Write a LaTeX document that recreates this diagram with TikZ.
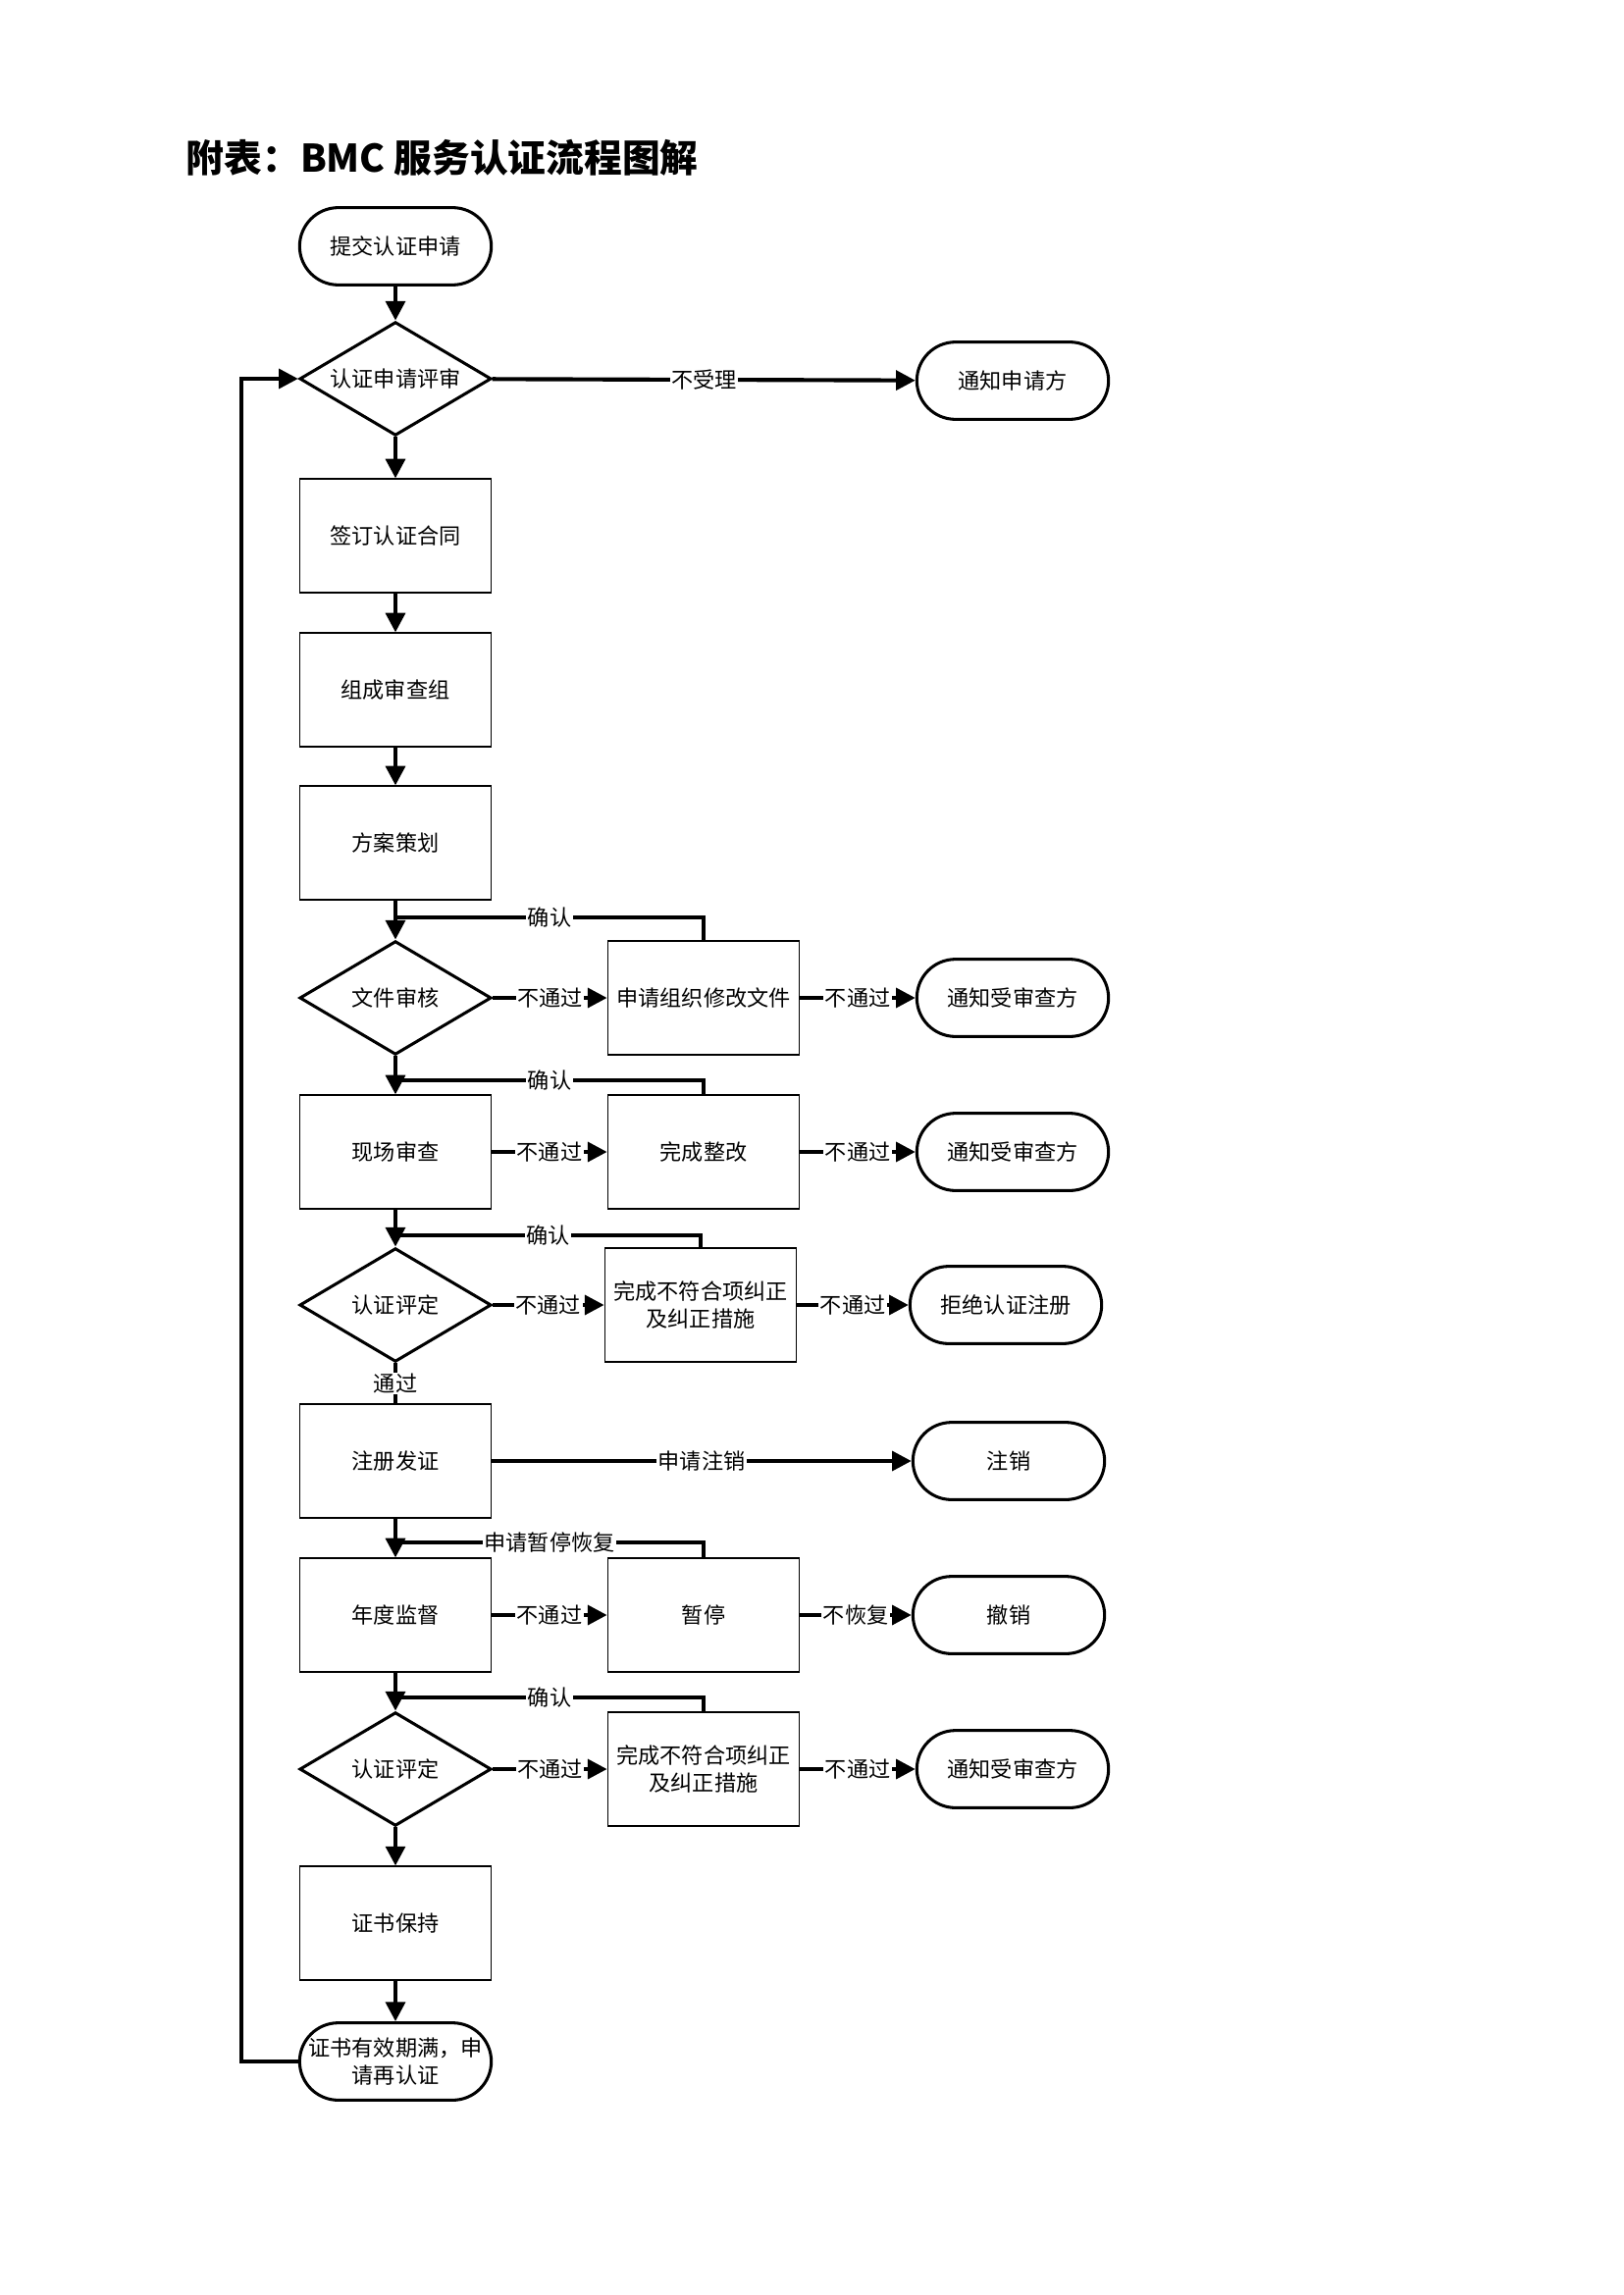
\documentclass[tikz,border=0pt]{standalone}
\usepackage{fontspec}
\setmainfont{Noto Sans CJK SC}
\usetikzlibrary{shapes.geometric,arrows.meta}

\newcommand{\colA}{403}
\newcommand{\colB}{717}
\newcommand{\colC}{1032}
\newcommand{\loopX}{246}

\tikzset{
  every node/.style={font=\fontsize{8}{10}\selectfont},
  procbox/.style={draw, line width=0.5pt, minimum width=24.8mm, minimum height=14.7mm, align=center, inner sep=1pt},
  termbox/.style={draw, line width=1.1pt, rounded corners=5mm, minimum width=24.8mm, minimum height=10mm, align=center, inner sep=1pt},
  decide/.style={draw, diamond, aspect=1.68, line width=1.1pt, minimum width=24.8mm, minimum height=14.7mm, inner sep=0pt},
  flow/.style={line width=1.5pt, -{Triangle[length=2.5mm,width=2.5mm]}},
  flowline/.style={line width=1.5pt},
  lbl/.style={fill=white, inner sep=0.5pt}
}

\begin{document}
\begin{tikzpicture}[x=0.12697mm, y=-0.12697mm]

    % page
    \useasboundingbox (0,0) rectangle (1654,2339);

    % title
    \node[anchor=west, font=\fontsize{14}{16}\selectfont\bfseries] (title) at (180,161) {附表：BMC 服务认证流程图解};

    % application
    \node[termbox] (start) at (\colA,251) {提交认证申请};
    \node[decide] (review) at (\colA,386) {认证申请评审};
    \node[termbox] (notify) at (\colC,388) {通知申请方};
    \node[procbox] (contract) at (\colA,546) {签订认证合同};
    \node[procbox] (team) at (\colA,703) {组成审查组};
    \node[procbox] (plan) at (\colA,859) {方案策划};

    % document review
    \node[decide] (docs) at (\colA,1017) {文件审核};
    \node[procbox] (docfix) at (\colB,1017) {申请组织修改文件};
    \node[termbox] (docend) at (\colC,1017) {通知受审查方};

    % site audit
    \node[procbox] (site) at (\colA,1174) {现场审查};
    \node[procbox] (sitefix) at (\colB,1174) {完成整改};
    \node[termbox] (siteend) at (\colC,1174) {通知受审查方};

    % decision
    \node[decide] (judge) at (\colA,1330) {认证评定};
    \node[procbox] (ncfix) at (714,1330) {完成不符合项纠正\\及纠正措施};
    \node[termbox] (reject) at (1025,1330) {拒绝认证注册};

    % certificate
    \node[procbox] (issue) at (\colA,1489) {注册发证};
    \node[termbox] (cancel) at (1028,1489) {注销};

    % surveillance
    \node[procbox] (audit) at (\colA,1646) {年度监督};
    \node[procbox] (pause) at (\colB,1646) {暂停};
    \node[termbox] (revoke) at (1028,1646) {撤销};

    % surveillance decision
    \node[decide] (rejudge) at (\colA,1803) {认证评定};
    \node[procbox] (ncfix2) at (\colB,1803) {完成不符合项纠正\\及纠正措施};
    \node[termbox] (notify2) at (\colC,1803) {通知受审查方};

    % renewal
    \node[procbox] (keep) at (\colA,1960) {证书保持};
    \node[termbox] (renew) at (\colA,2101) {证书有效期满，申\\请再认证};

    % join points
    \coordinate (j1) at (\colA,935);
    \coordinate (j2) at (\colA,1101);
    \coordinate (j3) at (\colA,1259);
    \coordinate (j4) at (\colA,1572);
    \coordinate (j5) at (\colA,1730);
    \coordinate (loopBot) at (\loopX,2101);
    \coordinate (loopTop) at (\loopX,386);

    % main flow
    \draw[flow] (start) -- (review);
    \draw[flow] (review) -- node[lbl] {不受理} (notify);
    \draw[flow] (review) -- (contract);
    \draw[flow] (contract) -- (team);
    \draw[flow] (team) -- (plan);
    \draw[flow] (plan) -- (docs);
    \draw[flow] (docs) -- (site);
    \draw[flow] (site) -- (judge);
    \draw[flowline] (judge) -- node[lbl] {通过} (issue);
    \draw[flow] (issue) -- (audit);
    \draw[flow] (audit) -- (rejudge);
    \draw[flow] (rejudge) -- (keep);
    \draw[flow] (keep) -- (renew);

    % side branches
    \draw[flow] (docs) -- node[lbl] {不通过} (docfix);
    \draw[flow] (docfix) -- node[lbl] {不通过} (docend);
    \draw[flow] (site) -- node[lbl] {不通过} (sitefix);
    \draw[flow] (sitefix) -- node[lbl] {不通过} (siteend);
    \draw[flow] (judge) -- node[lbl] {不通过} (ncfix);
    \draw[flow] (ncfix) -- node[lbl] {不通过} (reject);
    \draw[flow] (issue) -- node[lbl] {申请注销} (cancel);
    \draw[flow] (audit) -- node[lbl] {不通过} (pause);
    \draw[flow] (pause) -- node[lbl] {不恢复} (revoke);
    \draw[flow] (rejudge) -- node[lbl] {不通过} (ncfix2);
    \draw[flow] (ncfix2) -- node[lbl] {不通过} (notify2);

    % return lines
    \draw[flowline] (docfix.north) |- node[lbl, pos=0.75] {确认} (j1);
    \draw[flowline] (sitefix.north) |- node[lbl, pos=0.75] {确认} (j2);
    \draw[flowline] (ncfix.north) |- node[lbl, pos=0.75] {确认} (j3);
    \draw[flowline] (pause.north) |- node[lbl, pos=0.75] {申请暂停恢复} (j4);
    \draw[flowline] (ncfix2.north) |- node[lbl, pos=0.75] {确认} (j5);

    % re-certification loop
    \draw[flow] (renew) -- (loopBot) -- (loopTop) -- (review);

\end{tikzpicture}
\end{document}
